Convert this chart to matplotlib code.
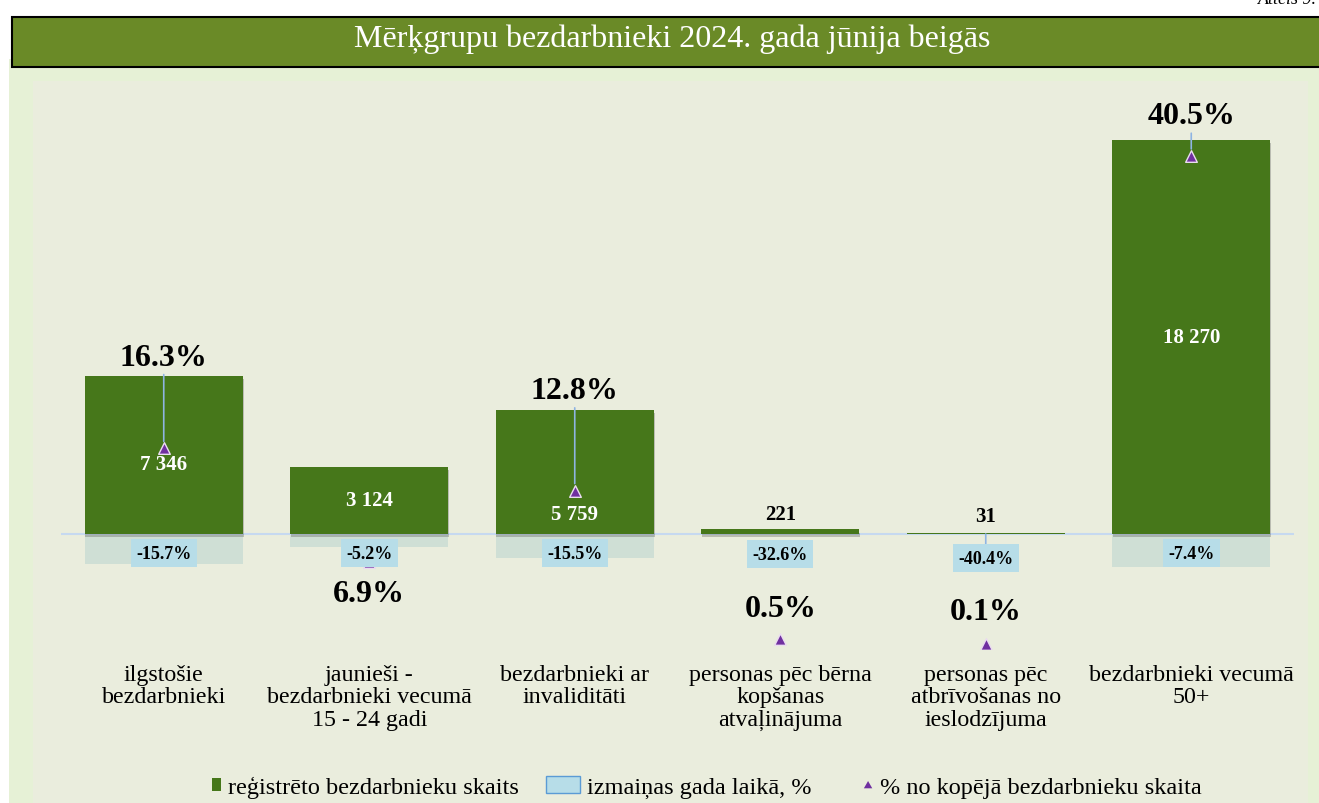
import numpy as np
import matplotlib.pyplot as plt
import matplotlib.patheffects as pe
from matplotlib.patches import Rectangle, Patch, RegularPolygon
from matplotlib.legend_handler import HandlerPatch

plt.rcParams['font.family'] = ['Liberation Serif', 'DejaVu Serif']

title = "Mērķgrupu bezdarbnieki 2024. gada jūnija beigās"
categories = [
    "ilgstošie\nbezdarbnieki",
    "jaunieši -\nbezdarbnieki vecumā\n15 - 24 gadi",
    "bezdarbnieki ar\ninvaliditāti",
    "personas pēc bērna\nkopšanas\natvaļinājuma",
    "personas pēc\natbrīvošanas no\nieslodzījuma",
    "bezdarbnieki vecumā\n50+",
]
registered = [7346, 3124, 5759, 221, 31, 18270]
change_pct = [-15.7, -5.2, -15.5, -32.6, -40.4, -7.4]
share_pct = [16.3, 6.9, 12.8, 0.5, 0.1, 40.5]
legend_labels = ["reģistrēto bezdarbnieku skaits", "izmaiņas gada laikā, %",
                 "% no kopējā bezdarbnieku skaita"]

# label nudges in pixels (the source chart moved some labels by hand)
share_dy = [91, -32, 100, 31, 32, 40]
count_dy = [-9, 0, -42, 15, 17, 0]
change_dy = [-19, -19, -19, -20, -24, -19]

GREEN = '#46771a'
BAND = '#6a8a27'
CHANGE_BOX = '#b7dde8'
PURPLE = '#7030a0'
LEADER = '#8eb4e3'

W, H = 1319, 804
fig = plt.figure(figsize=(W / 100, H / 100), dpi=100)
fig.patch.set_facecolor('white')


def px_rect(x0, y0, x1, y1, **kw):
    # pixel box measured from the top-left corner
    return Rectangle((x0 / W, 1 - y1 / H), (x1 - x0) / W, (y1 - y0) / H,
                     transform=fig.transFigure, **kw)


fig.patches.extend([
    px_rect(9, 60, W + 5, H + 5, facecolor='#e6f1d6', edgecolor='none', zorder=-2),
    px_rect(33, 82, 1308, H + 5, facecolor='#eaeddd', edgecolor='none', zorder=-1),
    px_rect(12, 18, W + 5, 68, facecolor=BAND, edgecolor='black', lw=1.5, zorder=1),
])
fig.text(672 / W, 1 - 39 / H, title, ha='center', va='center', color='white', fontsize=23)
fig.text(1317 / W, 1.0, "Attēls 9.", ha='right', va='center', style='italic', fontsize=13)

ax = fig.add_axes([61 / W, 1 - 650 / H, 1233 / W, 560 / H])
ax.set_facecolor('none')
x = np.arange(len(categories))
ax.set_xlim(-0.5, len(categories) - 0.5)
ax.set_ylim(-5331, 20630)

# faint reflection under the bars
reflection = np.minimum(np.array(registered) * 0.19, 1530)
ax.bar(x, -reflection, width=0.77, color='#cfdfd5', zorder=1)
ax.axhline(0, color='#c6d9f0', lw=1.5, zorder=2)

bars = ax.bar(x, registered, width=0.77, color=GREEN, zorder=3)
for b in bars:
    b.set_path_effects([pe.SimplePatchShadow(offset=(0.5, -2.5), shadow_rgbFace='#4d4d4d', alpha=0.3),
                        pe.Normal()])

for xi, v, dy in zip(x, registered, count_dy):
    inside = v > 1000
    ax.annotate(f"{v:,}".replace(",", " "), (xi, v / 2 if inside else v),
                xytext=(0, dy), textcoords='offset pixels', ha='center', va='center',
                fontsize=15, fontweight='bold', color='white' if inside else 'black', zorder=5)

ax.set_xticks(x)
ax.set_xticklabels(categories, fontsize=17.3, linespacing=1.1)
ax.tick_params(axis='x', length=0, pad=10.5)
ax.set_yticks([])
for s in ax.spines.values():
    s.set_visible(False)

# share of all unemployed on its own scale
ax3 = ax.twinx()
ax3.set_ylim(-0.315, 46.04)
ax3.axis('off')
ax3.scatter(x, share_pct, marker='^', s=70, color=PURPLE, edgecolors='#eadcf0',
            linewidths=1, zorder=4)

for xi, s, dy in zip(x, share_pct, share_dy):
    arrow = dict(arrowstyle='-', color=LEADER, lw=1.2, shrinkA=0, shrinkB=5) if abs(dy) > 35 else None
    ax3.annotate(f"{s:.1f}%", (xi, s), xytext=(0, dy), textcoords='offset pixels',
                 ha='center', va='center', fontsize=23, fontweight='bold', arrowprops=arrow, zorder=6)

for xi, c, dy in zip(x, change_pct, change_dy):
    arrow = dict(arrowstyle='-', color=LEADER, lw=1.2, shrinkA=0, shrinkB=0) if dy < -20 else None
    ax3.annotate(f"{c:.1f}%", (xi, 0), xycoords=ax.transData, xytext=(0, dy),
                 textcoords='offset pixels', ha='center', va='center', fontsize=13,
                 fontweight='bold', bbox=dict(boxstyle='square,pad=0.3', fc=CHANGE_BOX, ec='none'),
                 arrowprops=arrow, zorder=7)


# legend keys: small shapes sitting right next to their text
def narrow_box(legend, orig_handle, xdescent, ydescent, width, height, fontsize):
    return Rectangle((width - xdescent - 6, -ydescent + height / 2 - 5), 6, 10)


def small_triangle(legend, orig_handle, xdescent, ydescent, width, height, fontsize):
    return RegularPolygon((width - xdescent - 3, -ydescent + height / 2 - 1), 3, radius=3.5)


handles = [
    Patch(facecolor=GREEN),
    Patch(facecolor=CHANGE_BOX, edgecolor='#5b9bd5', lw=1),
    Patch(facecolor=PURPLE),
]
fig.legend(handles, legend_labels, loc='center', bbox_to_anchor=(694 / W, 1 - 788 / H),
           ncol=3, frameon=False, fontsize=17.5, handlelength=1.4, handletextpad=0.3,
           columnspacing=1.1,
           handler_map={handles[0]: HandlerPatch(patch_func=narrow_box),
                        handles[2]: HandlerPatch(patch_func=small_triangle)})

fig.savefig("out.png", dpi=100)
